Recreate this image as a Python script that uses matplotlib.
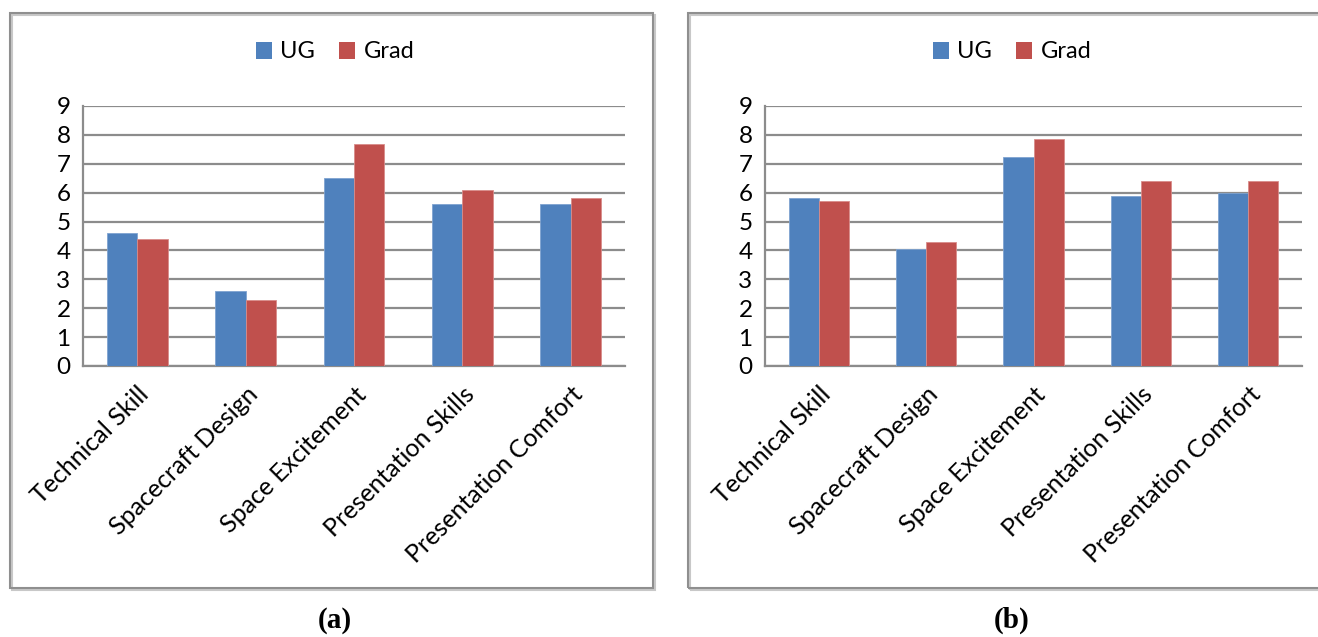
import matplotlib
matplotlib.use("Agg")
import matplotlib.pyplot as plt
from matplotlib.patches import Rectangle, Patch
import numpy as np

categories = ["Technical Skill", "Spacecraft Design", "Space Excitement",
              "Presentation Skills", "Presentation Comfort"]
series_names = ["UG", "Grad"]
ug_a = [4.6, 2.6, 6.5, 5.6, 5.6]
grad_a = [4.4, 2.3, 7.7, 6.1, 5.8]
ug_b = [5.8, 4.05, 7.25, 5.9, 6.0]
grad_b = [5.7, 4.3, 7.85, 6.42, 6.42]
yticks = list(range(0, 10))
panel_labels = ["a", "b"]

W, H = 1318, 637
BLUE = "#4F81BD"
RED = "#C0504D"
GRID = "#8C8C8C"
FONT = ["Lato", "DejaVu Sans"]

fig = plt.figure(figsize=(W / 100, H / 100), dpi=100)
fig.patch.set_facecolor("white")


def px_rect(x0, y0, x1, y1):
    return (x0 / W, 1 - y1 / H, (x1 - x0) / W, (y1 - y0) / H)


# panel borders
for (x0, x1) in [(10, 653), (688, 1330)]:
    l, b, w, h = px_rect(x0, 13, x1, 588)
    fig.add_artist(Rectangle((l + 1.5 / W, b - 1.5 / H), w, h, transform=fig.transFigure,
                             fill=False, edgecolor="#C8C8C8", linewidth=1.5))
    fig.add_artist(Rectangle((l, b), w, h, transform=fig.transFigure,
                             fill=False, edgecolor="#8F8F8F", linewidth=1.5))

panels = [
    (ug_a, grad_a, (83, 106, 625, 366), 335),
    (ug_b, grad_b, (765, 106, 1302, 366), 1012),
]

x = np.arange(len(categories))
bw = 0.28
for i, (ug, grad, (x0, y0, x1, y1), cx) in enumerate(panels):
    ax = fig.add_axes(px_rect(x0, y0, x1, y1))
    ax.bar(x - bw / 2, ug, bw, color=BLUE, edgecolor="#7FA3D0", linewidth=0.6, zorder=3)
    ax.bar(x + bw / 2, grad, bw, color=RED, edgecolor="#D88C8A", linewidth=0.6, zorder=3)
    ax.set_xlim(-0.5, len(categories) - 0.5)
    ax.set_ylim(0, 9)
    ax.set_yticks(yticks)
    ax.set_yticklabels([str(t) for t in yticks], fontsize=17.5, family=FONT)
    ax.yaxis.grid(True, color=GRID, linewidth=1.6, zorder=0)
    ax.set_axisbelow(True)
    for s in ["top", "right"]:
        ax.spines[s].set_visible(False)
    for s in ["left", "bottom"]:
        ax.spines[s].set_color(GRID)
        ax.spines[s].set_linewidth(1.6)
    ax.tick_params(axis="both", length=0, pad=9)
    ax.set_xticks(x)
    ax.set_xticklabels(categories, rotation=45, ha="right", va="top",
                       rotation_mode="anchor", fontsize=18, family=FONT)
    ax.tick_params(axis="x", pad=12)
    handles = [Patch(facecolor=BLUE), Patch(facecolor=RED)]
    fig.legend(handles, series_names, loc="center", bbox_to_anchor=(cx / W, 1 - 52 / H),
               ncol=2, frameon=False, handlelength=0.7, handleheight=0.7,
               handletextpad=0.35, columnspacing=1.0, prop={"family": FONT, "size": 17})
    fig.text(cx / W, 1 - 620 / H, "(" + panel_labels[i] + ")", ha="center", va="center",
             fontsize=21, family="Liberation Serif", fontweight="bold")

fig.savefig("out.png", dpi=100, facecolor="white")
